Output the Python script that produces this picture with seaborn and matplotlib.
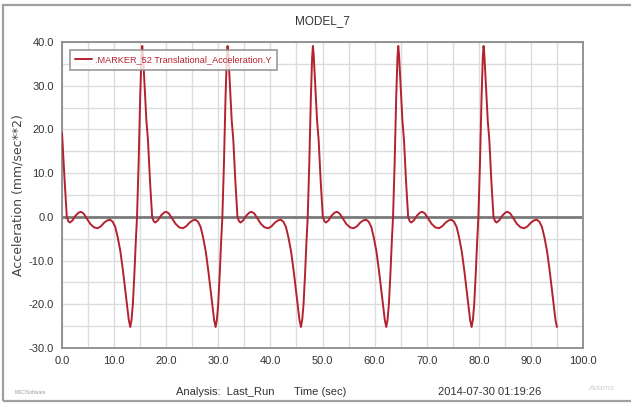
import matplotlib
matplotlib.use("Agg")
import matplotlib.pyplot as plt
from matplotlib.patches import Rectangle
from matplotlib.ticker import MultipleLocator, FormatStrFormatter
import seaborn as sns
import pandas as pd

# Sampled marker acceleration (time in s, acceleration in mm/sec**2)
time_s = [
    0.0, 0.52, 0.92, 1.22, 1.52, 2.02, 2.62, 3.22, 3.62, 4.12, 4.72, 5.42,
    6.12, 6.82, 7.42, 8.12, 8.72, 9.22, 9.72, 10.22, 10.72, 11.22, 11.72,
    12.12, 12.52, 12.82,
    13.1, 13.35, 13.6, 13.9, 14.15, 14.4, 14.7, 15.0, 15.25, 15.4, 15.55,
    15.85, 16.2, 16.5, 16.9, 17.3, 17.6, 17.9, 18.4, 19.0, 19.6, 20.0, 20.5,
    21.1, 21.8, 22.5, 23.2, 23.8, 24.5, 25.1, 25.6, 26.1, 26.6, 27.1, 27.6,
    28.1, 28.5, 28.9, 29.2,
    29.48, 29.73, 29.98, 30.28, 30.53, 30.78, 31.08, 31.38, 31.63, 31.78,
    31.93, 32.23, 32.58, 32.88, 33.28, 33.68, 33.98, 34.28, 34.78, 35.38,
    35.98, 36.38, 36.88, 37.48, 38.18, 38.88, 39.58, 40.18, 40.88, 41.48,
    41.98, 42.48, 42.98, 43.48, 43.98, 44.48, 44.88, 45.28, 45.58,
    45.86, 46.11, 46.36, 46.66, 46.91, 47.16, 47.46, 47.76, 48.01, 48.16,
    48.31, 48.61, 48.96, 49.26, 49.66, 50.06, 50.36, 50.66, 51.16, 51.76,
    52.36, 52.76, 53.26, 53.86, 54.56, 55.26, 55.96, 56.56, 57.26, 57.86,
    58.36, 58.86, 59.36, 59.86, 60.36, 60.86, 61.26, 61.66, 61.96,
    62.24, 62.49, 62.74, 63.04, 63.29, 63.54, 63.84, 64.14, 64.39, 64.54,
    64.69, 64.99, 65.34, 65.64, 66.04, 66.44, 66.74, 67.04, 67.54, 68.14,
    68.74, 69.14, 69.64, 70.24, 70.94, 71.64, 72.34, 72.94, 73.64, 74.24,
    74.74, 75.24, 75.74, 76.24, 76.74, 77.24, 77.64, 78.04, 78.34,
    78.62, 78.87, 79.12, 79.42, 79.67, 79.92, 80.22, 80.52, 80.77, 80.92,
    81.07, 81.37, 81.72, 82.02, 82.42, 82.82, 83.12, 83.42, 83.92, 84.52,
    85.12, 85.52, 86.02, 86.62, 87.32, 88.02, 88.72, 89.32, 90.02, 90.62,
    91.12, 91.62, 92.12, 92.62, 93.12, 93.62, 94.02, 94.42, 94.72,
    95.0,
]

accel = [
    19.2, 8.0, 0.0, -1.0, -1.3, -0.8, 0.3, 1.0, 1.15, 0.8, -0.3, -1.6,
    -2.4, -2.6, -2.2, -1.3, -0.8, -0.65, -1.1, -2.3, -4.8, -8.0, -12.5,
    -16.5, -20.5, -23.6,
    -25.2, -23.5, -20.0, -12.9, -6.0, 0.0, 12.0, 27.0, 36.5, 39.1, 37.0,
    30.0, 22.0, 17.6, 8.0, 0.0, -1.0, -1.3, -0.8, 0.3, 1.0, 1.15, 0.8,
    -0.3, -1.6, -2.4, -2.6, -2.2, -1.3, -0.8, -0.65, -1.1, -2.3, -4.8, -8.0,
    -12.5, -16.5, -20.5, -23.6,
    -25.2, -23.5, -20.0, -12.9, -6.0, 0.0, 12.0, 27.0, 36.5, 39.1,
    37.0, 30.0, 22.0, 17.6, 8.0, 0.0, -1.0, -1.3, -0.8, 0.3,
    1.0, 1.15, 0.8, -0.3, -1.6, -2.4, -2.6, -2.2, -1.3, -0.8,
    -0.65, -1.1, -2.3, -4.8, -8.0, -12.5, -16.5, -20.5, -23.6,
    -25.2, -23.5, -20.0, -12.9, -6.0, 0.0, 12.0, 27.0, 36.5, 39.1,
    37.0, 30.0, 22.0, 17.6, 8.0, 0.0, -1.0, -1.3, -0.8, 0.3,
    1.0, 1.15, 0.8, -0.3, -1.6, -2.4, -2.6, -2.2, -1.3, -0.8,
    -0.65, -1.1, -2.3, -4.8, -8.0, -12.5, -16.5, -20.5, -23.6,
    -25.2, -23.5, -20.0, -12.9, -6.0, 0.0, 12.0, 27.0, 36.5, 39.1,
    37.0, 30.0, 22.0, 17.6, 8.0, 0.0, -1.0, -1.3, -0.8, 0.3,
    1.0, 1.15, 0.8, -0.3, -1.6, -2.4, -2.6, -2.2, -1.3, -0.8,
    -0.65, -1.1, -2.3, -4.8, -8.0, -12.5, -16.5, -20.5, -23.6,
    -25.2, -23.5, -20.0, -12.9, -6.0, 0.0, 12.0, 27.0, 36.5, 39.1,
    37.0, 30.0, 22.0, 17.6, 8.0, 0.0, -1.0, -1.3, -0.8, 0.3,
    1.0, 1.15, 0.8, -0.3, -1.6, -2.4, -2.6, -2.2, -1.3, -0.8,
    -0.65, -1.1, -2.3, -4.8, -8.0, -12.5, -16.5, -20.5, -23.6,
    -25.2,
]

series_name = ".MARKER_52 Translational_Acceleration.Y"
plot_title = "MODEL_7"
x_label = "Time (sec)"
y_label = "Acceleration (mm/sec**2)"
analysis_text = "Analysis:  Last_Run"
stamp_text = "2014-07-30 01:19:26"

line_color = "#b3222e"
grid_color = "#dcdcdc"
frame_color = "#8c8c8c"

sns.set_style("white")
plt.rcParams["font.family"] = ["Liberation Sans", "DejaVu Sans"]
plt.rcParams["axes.unicode_minus"] = False

df = pd.DataFrame({"time": time_s, "accel": accel, "series": series_name})

fig = plt.figure(figsize=(6.31, 4.07), dpi=100)
ax = fig.add_axes([62 / 631, 1 - 348 / 407, (583 - 62) / 631, (348 - 42) / 407])

# outer panel border
fig.patches.append(Rectangle((3 / 631, 1 - 401 / 407), 640 / 631, (401 - 5) / 407,
                             transform=fig.transFigure, fill=False,
                             edgecolor="#a0a0a0", linewidth=1.6, zorder=0))

ax.set_xlim(0, 100)
ax.set_ylim(-30, 40)
ax.xaxis.set_major_locator(MultipleLocator(10))
ax.xaxis.set_minor_locator(MultipleLocator(5))
ax.yaxis.set_major_locator(MultipleLocator(10))
ax.yaxis.set_minor_locator(MultipleLocator(5))
ax.xaxis.set_major_formatter(FormatStrFormatter("%.1f"))
ax.yaxis.set_major_formatter(FormatStrFormatter("%.1f"))

ax.grid(True, which="both", color=grid_color, linewidth=1.0, zorder=0)
ax.set_axisbelow(True)
ax.axhline(0, color="#7a7a7a", linewidth=2.0, zorder=1)

sns.lineplot(data=df, x="time", y="accel", hue="series", palette=[line_color],
             estimator=None, sort=False, linewidth=1.4, ax=ax, zorder=3)

ax.tick_params(axis="both", which="major", direction="out", length=4, width=1,
               color="#666666", labelsize=8, labelcolor="#333333", pad=2)
ax.tick_params(axis="both", which="minor", direction="out", length=3, width=1,
               color="#666666")
for side, spine in ax.spines.items():
    spine.set_color(frame_color)
    spine.set_linewidth(1.3)

ax.set_xlabel("")
ax.set_ylabel(y_label, family="DejaVu Sans", fontsize=9, color="#444444", labelpad=3)
ax.set_title(plot_title, fontsize=8.5, color="#333333", pad=13)

leg = ax.legend(loc="upper left", bbox_to_anchor=(0.015, 0.975), borderaxespad=0,
                fancybox=False, shadow=False, frameon=True, fontsize=6.6,
                handlelength=1.8, handletextpad=0.3, borderpad=0.6)
leg.get_frame().set_edgecolor("#8a8a8a")
leg.get_frame().set_linewidth(1.3)
for txt in leg.get_texts():
    txt.set_color(line_color)

fig.text(225 / 631, 1 - 392 / 407, analysis_text, ha="center", va="center",
         fontsize=8, color="#333333")
fig.text(320 / 631, 1 - 392 / 407, x_label, ha="center", va="center",
         fontsize=8, color="#333333")
fig.text(490 / 631, 1 - 392 / 407, stamp_text, ha="center", va="center",
         fontsize=8, color="#333333")
fig.text(30 / 631, 1 - 393 / 407, "MSC/Software", ha="center", va="center",
         fontsize=3.5, color="#9a9a9a")
fig.text(601 / 631, 1 - 388 / 407, "Adams", ha="center", va="center",
         fontsize=6, color="#d0d0d0", style="italic")

fig.savefig("out.png", dpi=100)
